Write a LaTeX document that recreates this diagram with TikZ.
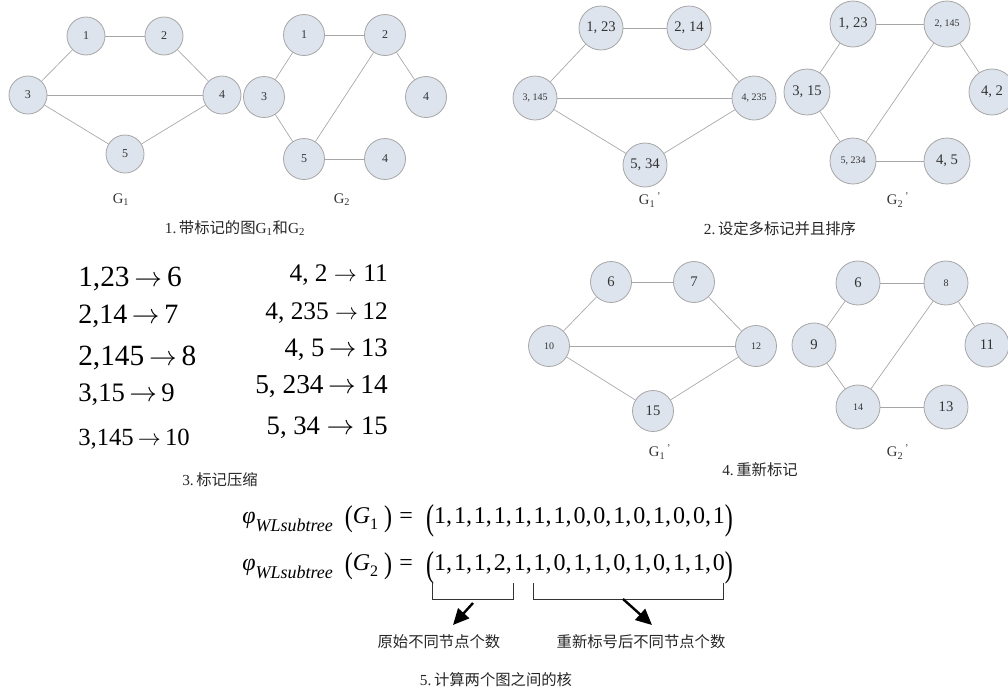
\documentclass[tikz,border=0pt]{standalone}
\usepackage{fontspec}
\usepackage{graphicx}
\setmainfont{Liberation Serif}
\newfontfamily\cjk{Noto Sans CJK SC}
\usetikzlibrary{arrows.meta}
\definecolor{nodefill}{HTML}{DEE4EE}
\definecolor{linegray}{HTML}{A6A6A6}
\definecolor{txt}{HTML}{333333}
\newcommand\bigp[1]{\raisebox{-0.25em}{\scalebox{1}[1.5]{#1}}}
\newcommand\medp[1]{\raisebox{-0.12em}{\scalebox{1}[1.25]{#1}}}
\newcommand\gsub[1]{G\textsubscript{#1}}
\newcommand\gpr[1]{G\textsubscript{#1}\textsuperscript{\,'}}
\newcommand\cm{,\hspace{0.08em}}
\newcommand\ar{\ensuremath{\rightarrow}}
\newcommand\phiw[1]{\textit{φ}\raisebox{-0.32em}{\fontsize{13.5}{14}\selectfont\itshape WLsubtree}\hspace{0.5em}\medp{(}\textit{G}\raisebox{-0.25em}{\fontsize{12}{12}\selectfont #1}\hspace{0.25em}\medp{)}\hspace{0.3em}=\hspace{0.55em}}
\begin{document}
\begin{tikzpicture}[x=0.75pt,y=-0.75pt,
  vtx/.style={circle,draw=linegray,fill=nodefill,line width=0.6pt,minimum size=#1,inner sep=0pt,text=txt},
  edge/.style={draw=linegray,line width=0.5pt},
  na/.style={font=\fontsize{9}{9}\selectfont},
  nb/.style={font=\fontsize{11}{11}\selectfont},
  ns/.style={font=\fontsize{7.5}{7.5}\selectfont},
  gl/.style={font=\fontsize{11}{12}\selectfont,text=txt},
  captxt/.style={font=\fontsize{11.5}{13}\selectfont,text=black!85},
  lst/.style={font=\fontsize{#1}{20}\selectfont,inner sep=0pt},
  fml/.style={font=\fontsize{18}{20}\selectfont,inner sep=0pt,anchor=west},
  brk/.style={draw=black!80,line width=0.5pt},
  bigarrow/.style={draw=black,line width=1.8pt,-{Triangle[length=12pt,width=11pt]}}
]
\useasboundingbox (0,0) rectangle (1008,690);
\clip (0,0) rectangle (1008,690);

% ---------- panel 1: G1 ----------
\node[vtx=28.5pt,na] (a1) at (86,36) {1};
\node[vtx=28.5pt,na] (a2) at (164,36) {2};
\node[vtx=28.5pt,na] (a3) at (28,95) {3};
\node[vtx=28.5pt,na] (a4) at (222,95) {4};
\node[vtx=28.5pt,na] (a5) at (125,154) {5};
\draw[edge] (a1) -- (a2);
\draw[edge] (a1) -- (a3);
\draw[edge] (a2) -- (a4);
\draw[edge] (a3) -- (a4);
\draw[edge] (a3) -- (a5);
\draw[edge] (a5) -- (a4);
% G2
\node[vtx=30.75pt,na] (b1) at (304,35) {1};
\node[vtx=30.75pt,na] (b2) at (385,35) {2};
\node[vtx=30.75pt,na] (b3) at (264,97) {3};
\node[vtx=30.75pt,na] (b4) at (426,97) {4};
\node[vtx=30.75pt,na] (b5) at (304,159) {5};
\node[vtx=30.75pt,na] (b6) at (385,159) {4};
\draw[edge] (b1) -- (b2);
\draw[edge] (b1) -- (b3);
\draw[edge] (b3) -- (b5);
\draw[edge] (b5) -- (b2);
\draw[edge] (b2) -- (b4);
\draw[edge] (b5) -- (b6);
\node[gl] (lg1) at (121,200) {\gsub{1}};
\node[gl] (lg2) at (342,200) {\gsub{2}};
\node[captxt] (cap1) at (235,228) {1.\,{\cjk 带标记的图}\gsub{1}{\cjk 和}\gsub{2}};

% ---------- panel 2 ----------
\node[vtx=33pt,nb] (c1) at (601,28) {1, 23};
\node[vtx=33pt,nb] (c2) at (689,28) {2, 14};
\node[vtx=33pt,ns] (c3) at (535,98) {3, 145};
\node[vtx=33pt,ns] (c4) at (754,98) {4, 235};
\node[vtx=33pt,nb] (c5) at (645,165) {5, 34};
\draw[edge] (c1) -- (c2);
\draw[edge] (c1) -- (c3);
\draw[edge] (c2) -- (c4);
\draw[edge] (c3) -- (c4);
\draw[edge] (c3) -- (c5);
\draw[edge] (c5) -- (c4);
\node[vtx=34.5pt,nb] (d1) at (853,24) {1, 23};
\node[vtx=34.5pt,ns] (d2) at (947,24) {2, 145};
\node[vtx=34.5pt,nb] (d3) at (807,92) {3, 15};
\node[vtx=34.5pt,nb] (d4) at (992,92) {4, 2};
\node[vtx=34.5pt,ns] (d5) at (853,161) {5, 234};
\node[vtx=34.5pt,nb] (d6) at (947,161) {4, 5};
\draw[edge] (d1) -- (d2);
\draw[edge] (d1) -- (d3);
\draw[edge] (d3) -- (d5);
\draw[edge] (d5) -- (d2);
\draw[edge] (d2) -- (d4);
\draw[edge] (d5) -- (d6);
\node[gl] (lg3) at (650,200) {\gpr{1}};
\node[gl] (lg4) at (898,200) {\gpr{2}};
\node[captxt] (cap2) at (780,229) {2.\,{\cjk 设定多标记并且排序}};

% ---------- panel 3 ----------
\node[lst=22,anchor=west] (l1) at (78,279) {1,23\,\ar\,6};
\node[lst=21,anchor=west] (l2) at (78,316) {2,14\,\ar\,7};
\node[lst=22,anchor=west] (l3) at (78,358) {2,145\,\ar\,8};
\node[lst=20,anchor=west] (l4) at (78,395) {3,15\,\ar\,9};
\node[lst=18.5,anchor=west] (l5) at (78,439) {3,145\,\ar\,10};
\node[lst=19,anchor=east] (r1) at (388,275) {4, 2 \ar\ 11};
\node[lst=19,anchor=east] (r2) at (388,313) {4, 235 \ar\,12};
\node[lst=20,anchor=east] (r3) at (388,350) {4, 5\,\ar\,13};
\node[lst=20.5,anchor=east] (r4) at (388,387) {5, 234\,\ar\,14};
\node[lst=20,anchor=east] (r5) at (388,428) {5, 34 \ar\ 15};
\node[captxt] (cap3) at (220,480) {3.\,{\cjk 标记压缩}};

% ---------- panel 4 ----------
\node[vtx=30.75pt,nb] (e1) at (611,282) {6};
\node[vtx=30.75pt,nb] (e2) at (694,282) {7};
\node[vtx=30.75pt,ns] (e3) at (549,346) {10};
\node[vtx=30.75pt,ns] (e4) at (756,346) {12};
\node[vtx=30.75pt,nb] (e5) at (653,411) {15};
\draw[edge] (e1) -- (e2);
\draw[edge] (e1) -- (e3);
\draw[edge] (e2) -- (e4);
\draw[edge] (e3) -- (e4);
\draw[edge] (e3) -- (e5);
\draw[edge] (e5) -- (e4);
\node[vtx=33pt,nb] (f1) at (858,283) {6};
\node[vtx=33pt,ns] (f2) at (946,283) {8};
\node[vtx=33pt,nb] (f3) at (814,345) {9};
\node[vtx=33pt,nb] (f4) at (987,345) {11};
\node[vtx=33pt,ns] (f5) at (858,407) {14};
\node[vtx=33pt,nb] (f6) at (946,407) {13};
\draw[edge] (f1) -- (f2);
\draw[edge] (f1) -- (f3);
\draw[edge] (f3) -- (f5);
\draw[edge] (f5) -- (f2);
\draw[edge] (f2) -- (f4);
\draw[edge] (f5) -- (f6);
\node[gl] (lg5) at (660,452) {\gpr{1}};
\node[gl] (lg6) at (898,452) {\gpr{2}};
\node[captxt] (cap4) at (760,470) {4.\,{\cjk 重新标记}};

% ---------- panel 5 ----------
\node[fml] (fm1) at (242,521) {\phiw{1}\bigp{(}1\cm1\cm1\cm1\cm1\cm1\cm1\cm0\cm0\cm1\cm0\cm1\cm0\cm0\cm1\bigp{)}};
\node[fml] (fm2) at (242,568) {\phiw{2}\bigp{(}1\cm1\cm1\cm2\cm1\cm1\cm0\cm1\cm1\cm0\cm1\cm0\cm1\cm1\cm0\bigp{)}};
\coordinate (k1) at (432,583);
\coordinate (k2) at (513,583);
\coordinate (k3) at (533,583);
\coordinate (k4) at (723,583);
\draw[brk] (k1) -- ++(0,16) -| (k2);
\draw[brk] (k3) -- ++(0,16) -| (k4);
\coordinate (s1) at (473,603);
\coordinate (t1) at (453,625);
\coordinate (s2) at (623,599);
\coordinate (t2) at (652,625);
\draw[bigarrow] (s1) -- (t1);
\draw[bigarrow] (s2) -- (t2);
\node[captxt,anchor=east] (lab1) at (505,642) {\cjk 原始不同节点个数};
\node[captxt,anchor=west] (lab2) at (552,642) {\cjk 重新标号后不同节点个数};
\node[captxt] (cap5) at (496,680) {5.\,{\cjk 计算两个图之间的核}};
\end{tikzpicture}
\end{document}
